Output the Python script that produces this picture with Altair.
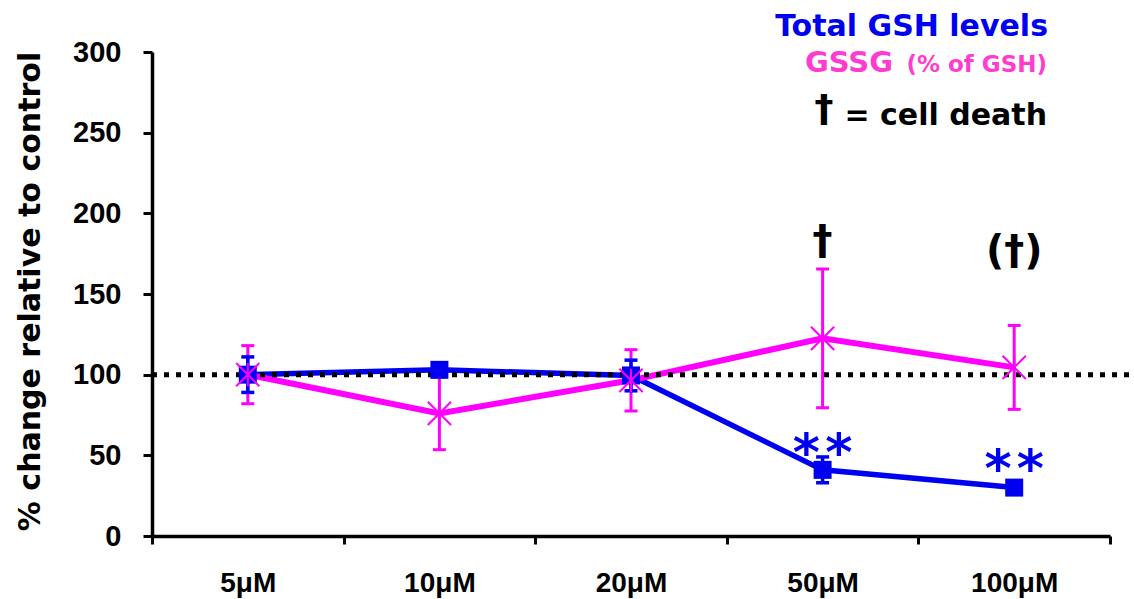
import altair as alt
import pandas as pd

# Concentrations tested and the two measured series (% of control)
concentrations = ["5μM", "10μM", "20μM", "50μM", "100μM"]
gsh_total = [100, 103, 99.5, 41, 30]
gsh_err = [11, 3, 9.5, 8, 3]
gssg_pct = [100, 76, 96.5, 122.5, 104.5]
gssg_err = [18, 22.5, 19, 43, 26]

# Significance and cell-death annotations
star_conc = ["50μM", "100μM"]
star_text = ["*\u200a*", "*\u200a*"]
star_level = [59, 49]
death_conc = ["50μM", "100μM"]
death_text = ["†", "(†)"]
death_level = [182, 176]

control_level = [100]
y_ticks = [0, 50, 100, 150, 200, 250, 300]

W, H = 958, 484
BLUE = "#0000f0"
MAGENTA = "#ff00ff"
PINK_TEXT = "#ff3ccf"
VERDANA_LIKE = "DejaVu Sans"
HELV_LIKE = "Liberation Sans"

pos_of = {c: i + 0.5 for i, c in enumerate(concentrations)}

df = pd.DataFrame({
    "conc": concentrations,
    "pos": [pos_of[c] for c in concentrations],
    "gsh": gsh_total,
    "gsh_err": gsh_err,
    "gssg": gssg_pct,
    "gssg_err": gssg_err,
})
stars = pd.DataFrame({"pos": [pos_of[c] for c in star_conc], "y": star_level, "t": star_text})
deaths = pd.DataFrame({"pos": [pos_of[c] for c in death_conc], "y": death_level, "t": death_text})
ctrl = pd.DataFrame({"control": control_level})

x_scale = alt.Scale(domain=[0, len(concentrations)], nice=False, zero=False)
y_scale = alt.Scale(domain=[0, 300], nice=False)

names_js = "[" + ",".join(f"'{c}'" for c in concentrations) + "]"
x_axis = alt.Axis(
    values=[i * 0.5 for i in range(2 * len(concentrations) + 1)],
    labelExpr=f"datum.value % 1 == 0.5 ? {names_js}[floor(datum.value)] : ''",
    tickOpacity={"condition": {"test": "datum.value % 1 == 0", "value": 1}, "value": 0},
    labelFont=HELV_LIKE, labelFontWeight="bold", labelFontSize=28, labelColor="black",
    labelBaseline="alphabetic", labelPadding=47, labelOverlap=False, labelFlush=False,
    tickSize=8, tickWidth=3, tickColor="black",
    domainWidth=3.5, domainColor="black", grid=False, title=None,
)
y_axis = alt.Axis(
    values=y_ticks,
    labelFont=HELV_LIKE, labelFontWeight="bold", labelFontSize=29, labelColor="black",
    labelPadding=22, tickSize=9, tickWidth=3, tickColor="black",
    domainWidth=3.5, domainColor="black", grid=False,
    title="% change relative to control",
    titleFont=VERDANA_LIKE, titleFontWeight="bold", titleFontSize=30, titleColor="black",
    titleX=-122, titleY=H / 2 - 3, titleAngle=270, titleAlign="center", titleBaseline="middle",
)

X = alt.X("pos:Q", scale=x_scale, axis=x_axis)

base = alt.Chart(df)

gsh_line = base.mark_line(color=BLUE, strokeWidth=5.5).encode(
    x=X, y=alt.Y("gsh:Q", scale=y_scale, axis=y_axis)
)
gssg_line = base.mark_line(color=MAGENTA, strokeWidth=6).encode(
    x=alt.X("pos:Q"), y=alt.Y("gssg:Q")
)

gssg_bounds = base.transform_calculate(
    lo="datum.gssg - datum.gssg_err", hi="datum.gssg + datum.gssg_err"
)
gssg_bar = gssg_bounds.mark_rule(color=MAGENTA, strokeWidth=3).encode(
    x="pos:Q", y="lo:Q", y2="hi:Q"
)
gssg_caps = gssg_bounds.transform_fold(["lo", "hi"], as_=["end", "v"]).mark_tick(
    color=MAGENTA, orient="horizontal", size=13, thickness=3, opacity=1
).encode(x="pos:Q", y="v:Q")

gsh_bounds = base.transform_calculate(
    lo="datum.gsh - datum.gsh_err", hi="datum.gsh + datum.gsh_err"
)
gsh_bar = gsh_bounds.mark_rule(color=BLUE, strokeWidth=3.5).encode(
    x="pos:Q", y="lo:Q", y2="hi:Q"
)
gsh_caps = gsh_bounds.transform_fold(["lo", "hi"], as_=["end", "v"]).mark_tick(
    color=BLUE, orient="horizontal", size=13, thickness=3.5, opacity=1
).encode(x="pos:Q", y="v:Q")

control_rule = alt.Chart(ctrl).mark_rule(
    color="black", strokeWidth=5, strokeDash=[5, 7]
).encode(y="control:Q", x=alt.datum(0), x2=alt.datum(5.13))

gsh_pts = base.mark_point(
    shape="square", filled=True, size=324, color=BLUE, opacity=1
).encode(x="pos:Q", y="gsh:Q")
gssg_pts = base.mark_point(
    shape="M-1,-1L1,1M-1,1L1,-1M0,-1L0,1", filled=False, size=540,
    strokeWidth=2, color=MAGENTA, opacity=1
).encode(x="pos:Q", y="gssg:Q")

star_marks = alt.Chart(stars).mark_text(
    font=VERDANA_LIKE, fontWeight="bold", fontSize=52, color=BLUE,
    baseline="middle", dy=13
).encode(x="pos:Q", y="y:Q", text="t:N")
death_marks = alt.Chart(deaths).mark_text(
    font=VERDANA_LIKE, fontWeight="bold", fontSize=40, color="black",
    baseline="middle"
).encode(x="pos:Q", y="y:Q", text="t:N")

one = pd.DataFrame({"k": [0]})


def note(text, x, y, size, color, align="right"):
    return alt.Chart(one).mark_text(
        text=text, font=VERDANA_LIKE, fontWeight="bold", fontSize=size,
        color=color, align=align, baseline="alphabetic"
    ).encode(x=alt.value(x), y=alt.value(y))


key = (
    note("Total GSH levels", 896, -16, 30, BLUE)
    + note("GSSG", 741, 20, 29, PINK_TEXT)
    + note("(% of GSH)", 895, 20, 23, PINK_TEXT)
    + note("= cell death", 895, 73, 30, "black")
    + note("†", 672, 69, 38, "black", align="center")
)

chart = alt.layer(
    gsh_line, gssg_line, control_rule, gssg_bar, gssg_caps, gsh_bar, gsh_caps,
    gsh_pts, gssg_pts, star_marks, death_marks, key
).properties(
    width=W, height=H,
    autosize=alt.AutoSizeParams(type="none"),
    padding={"left": 152, "top": 52, "right": 24, "bottom": 63},
    background="white",
).configure_view(stroke=None)

chart.save("out.html", embed_options={"renderer": "svg", "actions": False})
